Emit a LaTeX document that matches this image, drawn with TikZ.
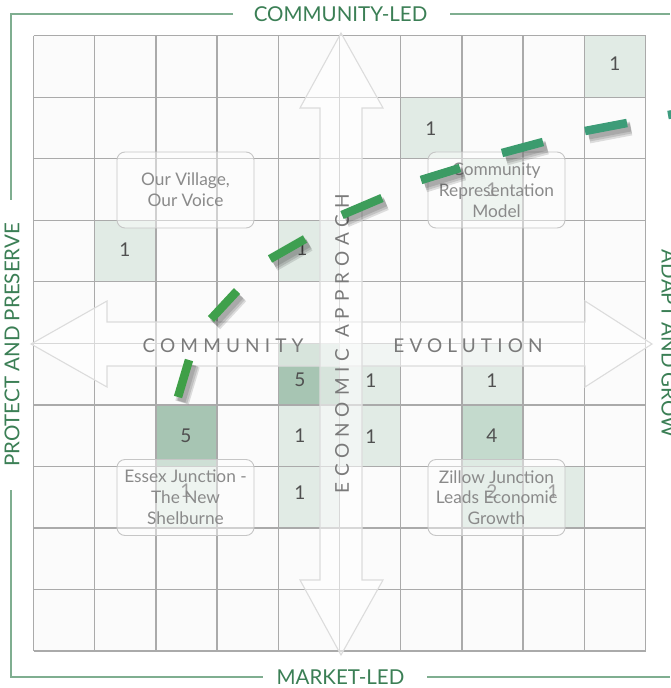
\documentclass[tikz,border=0pt]{standalone}
\usepackage{fontspec}
\setmainfont{Lato}
\newfontfamily\spacedfont[LetterSpace=27]{Lato}
\newfontfamily\widespacedfont[LetterSpace=31]{Lato}
\definecolor{gridline}{HTML}{AAAAAA}
\definecolor{cellbg}{HTML}{FBFBFB}
\definecolor{cA}{HTML}{E1EBE5}
\definecolor{cB}{HTML}{D3E3D9}
\definecolor{cD}{HTML}{C4DACD}
\definecolor{cE}{HTML}{A7C5B3}
\definecolor{framegreen}{HTML}{7FAE90}
\definecolor{titlegreen}{HTML}{3B7F55}
\definecolor{numgray}{HTML}{505050}
\definecolor{axisgray}{HTML}{7A7A7A}
\definecolor{labelgray}{HTML}{8A8A8A}
\definecolor{boxline}{HTML}{C6C6C6}
\definecolor{arrowline}{HTML}{DCDCDC}
\definecolor{dA}{HTML}{3F9F47}
\definecolor{dB}{HTML}{3FA04B}
\definecolor{dC}{HTML}{3E9F51}
\definecolor{dD}{HTML}{3D9D5A}
\definecolor{dE}{HTML}{3C9B64}
\definecolor{dF}{HTML}{3B9B6E}
\definecolor{dG}{HTML}{3D9C78}
\definecolor{dH}{HTML}{3E9C7F}
\begin{document}
\begin{tikzpicture}[x=1pt,y=-1pt,
  gridstroke/.style={draw=gridline,line width=1.3pt},
  arrowshape/.style={draw=arrowline,line width=1.1pt,fill=white,fill opacity=0.55},
  numlabel/.style={inner sep=0pt,text=numgray,font=\fontsize{19}{19}\selectfont},
  axislabel/.style={inner sep=0pt,text=axisgray,font=\spacedfont\fontsize{19}{19}\selectfont},
  labelbox/.style={draw=boxline,line width=0.9pt,rounded corners=8pt,fill=white,fill opacity=0.45,text opacity=1,
     text=labelgray,align=center,minimum width=137pt,minimum height=76pt,inner sep=0pt,
     font=\fontsize{17.3}{20.8}\selectfont},
  framestroke/.style={draw=framegreen,line width=1.8pt},
  frametext/.style={inner sep=0pt,text=titlegreen,font=\fontsize{20.5}{20.5}\selectfont},
  dashline/.style={line width=8.5pt},
  dashshadow/.style={line width=#1,draw=black,draw opacity=0.12}
]
\useasboundingbox (0,0) rectangle (670,688);
\fill[white] (0,0) rectangle (670,688);

% grid background
\fill[cellbg] (33.5,35.7) rectangle (645.5,651);

% shaded cells
\foreach \c/\r/\col in {9/0/cA,6/1/cA,7/2/cA,1/3/cA,4/3/cA,4/5/cE,5/5/cA,7/5/cA,
   2/6/cE,4/6/cA,5/6/cA,7/6/cD,2/7/cA,4/7/cA,7/7/cB,8/7/cA}{
  \fill[\col] (33.5+61.2*\c,35.7+61.53*\r) rectangle (33.5+61.2*\c+61.2,35.7+61.53*\r+61.53);
}

% grid lines
\foreach \i in {0,...,10}{
  \draw[gridstroke] (33.5+61.2*\i,35.7) -- (33.5+61.2*\i,651);
  \draw[gridstroke] (33.5,35.7+61.53*\i) -- (645.5,35.7+61.53*\i);
}

% double arrows
\draw[arrowshape] (31,344) -- (107,301) -- (107,322) -- (585,322) -- (585,301) -- (652,344)
   -- (585,387) -- (585,366) -- (107,366) -- (107,387) -- cycle;
\draw[arrowshape] (341,33) -- (383,108) -- (362,108) -- (362,580) -- (383,580) -- (341,655)
   -- (300,580) -- (320,580) -- (320,108) -- (300,108) -- cycle;

% numbers
\node[numlabel] (n90) at (615,64) {1};
\node[numlabel] (n61) at (431,129) {1};
\node[numlabel] (n72) at (492,190) {1};
\node[numlabel] (n13) at (125,250) {1};
\node[numlabel] (n43) at (302,249) {1};
\node[numlabel] (n45) at (300,380) {5};
\node[numlabel] (n55) at (371,381) {1};
\node[numlabel] (n75) at (492,381) {1};
\node[numlabel] (n26) at (186,436) {5};
\node[numlabel] (n46) at (300,436) {1};
\node[numlabel] (n56) at (371,437) {1};
\node[numlabel] (n76) at (492,436) {4};
\node[numlabel] (n27) at (186,491) {1};
\node[numlabel] (n47) at (300,493) {1};
\node[numlabel] (n77) at (492,492) {2};
\node[numlabel] (n87) at (553,492) {1};

% axis texts
\node[axislabel] (community) at (223,346) {COMMUNITY};
\node[axislabel] (evolution) at (468,346) {EVOLUTION};
\node[axislabel,font=\widespacedfont\fontsize{19}{19}\selectfont,rotate=90] (economic) at (342,344) {ECONOMIC APPROACH};

% label boxes
\node[labelbox] (village) at (185.5,190) {Our Village,\\Our Voice};
\node[labelbox] (represent) at (496.5,190) {Community\\Representation\\Model};
\node[labelbox] (essex) at (185.5,497.5) {Essex Junction -\\The New\\Shelburne};
\node[labelbox] (zillow) at (496.5,497.5) {Zillow Junction\\Leads Economic\\Growth};

% frame
\coordinate (tl) at (10.7,14);
\coordinate (bl) at (10.7,677);
\coordinate (tlend) at (233,14);
\coordinate (trstart) at (450,14);
\coordinate (trend) at (670,14);
\coordinate (ltend) at (10.7,200);
\coordinate (lbstart) at (10.7,490);
\coordinate (blend) at (263,677);
\coordinate (brstart) at (427,677);
\coordinate (brend) at (670,677);
\draw[framestroke] (tlend) -- (tl) -- (ltend);
\draw[framestroke] (lbstart) -- (bl) -- (blend);
\draw[framestroke] (trstart) -- (trend);
\draw[framestroke] (brstart) -- (brend);
\node[frametext] (topt) at (340.5,14) {COMMUNITY-LED};
\node[frametext] (bott) at (340.5,677) {MARKET-LED};
\node[frametext,rotate=90] (leftt) at (12,345) {PROTECT AND PRESERVE};
\node[frametext,rotate=-90] (rightt) at (669,344) {ADAPT AND GROW};

% green dashes with shadows
\foreach \xa/\ya/\xb/\yb/\dc in {178/397/189/360/dA, 211/319/237/291/dB, 270/259/305/239/dC,
   342/215/382/198/dD, 421/180/460/168/dE, 502/153/543/142/dF, 585/131/627/123/dG, 668/115/708/108/dH}{
  \draw[dashshadow=14pt] (\xa+4,\ya+5.5) -- (\xb+4,\yb+5.5);
  \draw[dashshadow=11pt] (\xa+4,\ya+5) -- (\xb+4,\yb+5);
  \draw[dashshadow=8pt] (\xa+3.5,\ya+4.5) -- (\xb+3.5,\yb+4.5);
  \draw[dashline,draw=\dc] (\xa,\ya) -- (\xb,\yb);
}
\end{tikzpicture}
\end{document}
